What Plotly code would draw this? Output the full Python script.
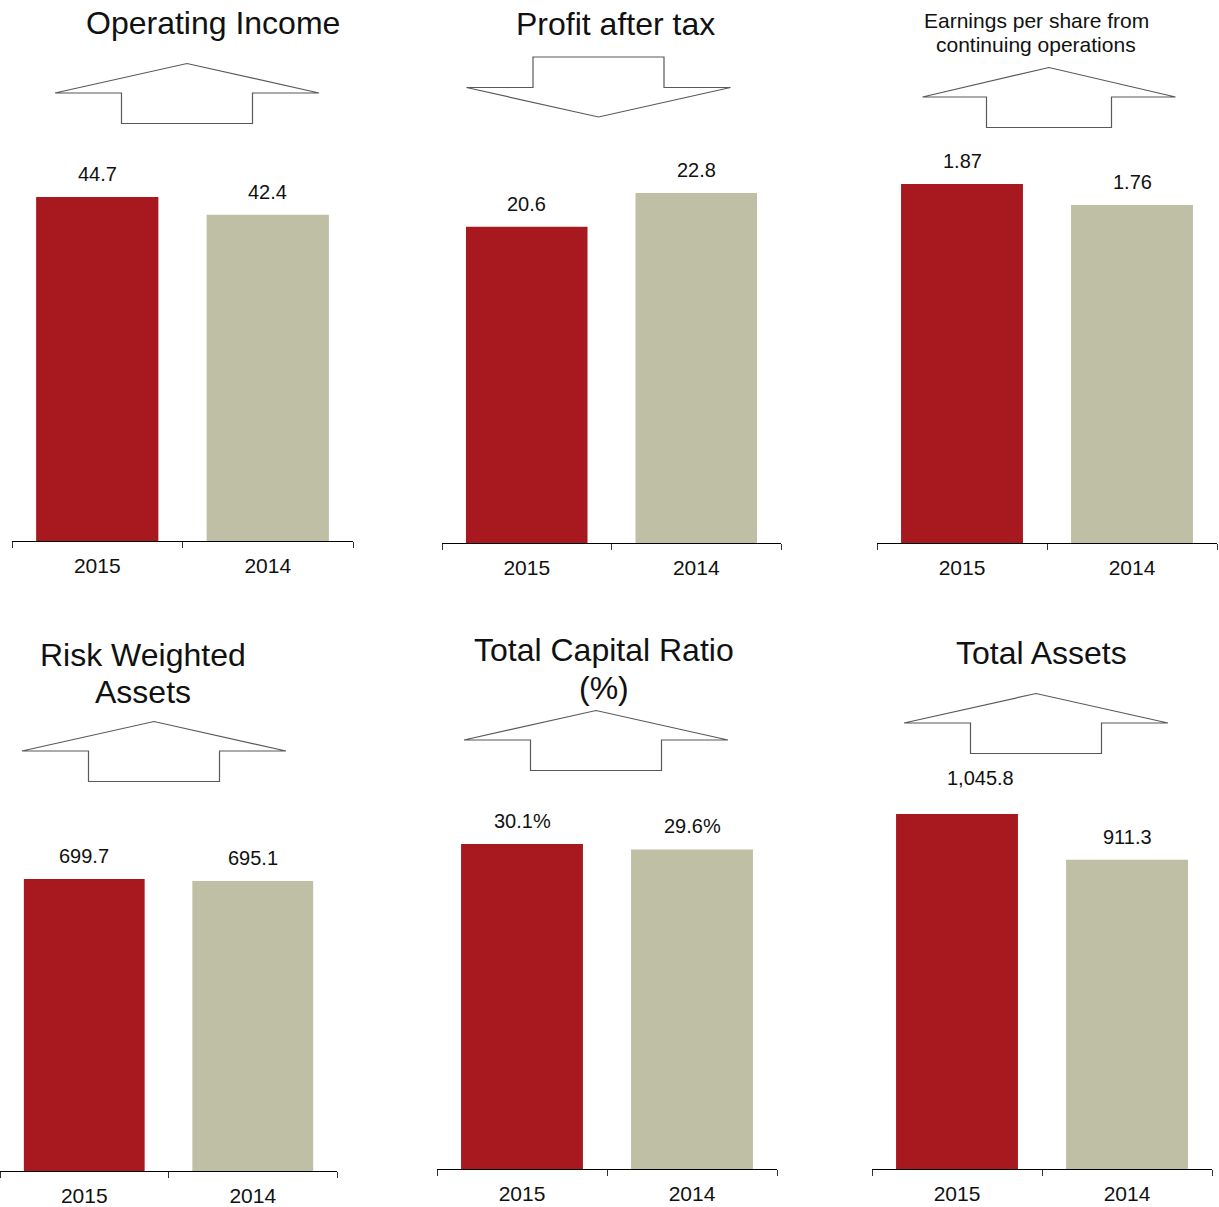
import plotly.graph_objects as go

# ---------------- data ----------------
years = ["2015", "2014"]
titles = [
    "Operating Income",
    "Profit after tax",
    "Earnings per share from<br>continuing operations",
    "Risk Weighted<br>Assets",
    "Total Capital Ratio<br>(%)",
    "Total Assets",
]
operating_income = [44.7, 42.4]
profit_after_tax = [20.6, 22.8]
eps_continuing = [1.87, 1.76]
risk_weighted_assets = [699.7, 695.1]
total_capital_ratio = [30.1, 29.6]
total_assets = [1045.8, 911.3]
series = [operating_income, profit_after_tax, eps_continuing,
          risk_weighted_assets, total_capital_ratio, total_assets]
label_formats = ["{:.1f}", "{:.1f}", "{:.2f}", "{:.1f}", "{:.1f}%", "{:,.1f}"]
trend = ["up", "down", "up", "up", "up", "up"]

# ---------------- style / layout (pixels) ----------------
W, H = 1219, 1207
RED = "#A8191F"
BEIGE = "#BFBFA5"
FONT = "Liberation Sans, Arial, sans-serif"

panels = [
    dict(x0=12, x1=353, yb=541, yt=150, ymax=50.81, tx=213, ty=[23], ts=32, acx=187, ay=93, hw=132, sw=65.5),
    dict(x0=442, x1=781, yb=543, yt=150, ymax=25.60, tx=615, ty=[24], ts=32, acx=598.5, ay=87.5, hw=132, sw=65.5),
    dict(x0=877, x1=1217, yb=543, yt=150, ymax=2.047, tx=1036, ty=[21, 45], ts=21, acx=1049, ay=97, hw=126.5, sw=62.5),
    dict(x0=0, x1=337, yb=1171, yt=780, ymax=936.9, tx=143, ty=[655, 692], ts=32, acx=154, ay=751, hw=132, sw=65.5),
    dict(x0=437, x1=777, yb=1169, yt=780, ymax=36.03, tx=604, ty=[650, 688], ts=32, acx=596, ay=740, hw=132, sw=65.5),
    dict(x0=872, x1=1212, yb=1169, yt=780, ymax=1146.0, tx=1041, ty=[653], ts=32, acx=1036, ay=723, hw=132, sw=65.5),
]
label_shift = {(5, 0): (23, 36)}


def px(x):
    return x / W


def py(y):
    return 1 - y / H


fig = go.Figure()
annotations = []
shapes = []

for i, (vals, p) in enumerate(zip(series, panels)):
    n = i + 1
    xa = "x" if n == 1 else f"x{n}"
    ya = "y" if n == 1 else f"y{n}"
    fig.add_trace(go.Bar(
        x=years, y=vals, marker=dict(color=[RED, BEIGE], line=dict(width=0)),
        xaxis=xa, yaxis=ya, showlegend=False, hoverinfo="x+y",
    ))
    axis_x = dict(
        domain=[px(p["x0"]), px(p["x1"])], anchor=ya, type="category",
        range=[-0.5, 1.5], showline=True, linecolor="black", linewidth=1,
        ticks="outside", tickson="boundaries", ticklen=6, tickcolor="#333",
        tickfont=dict(size=21, color="#111", family=FONT), showgrid=False,
        zeroline=False, fixedrange=True, ticklabelstandoff=6,
    )
    axis_y = dict(
        domain=[py(p["yb"]), py(p["yt"])], anchor=xa, range=[0, p["ymax"]],
        visible=False, showgrid=False, zeroline=False, fixedrange=True,
    )
    fig.update_layout(**{("xaxis" if n == 1 else f"xaxis{n}"): axis_x,
                         ("yaxis" if n == 1 else f"yaxis{n}"): axis_y})

    # value labels (category axis -> use category index)
    for j, v in enumerate(vals):
        xs, ys = label_shift.get((i, j), (0, 23))
        annotations.append(dict(
            x=j, y=v, xref=xa, yref=ya, text=label_formats[i].format(v),
            showarrow=False, yanchor="middle", xanchor="center",
            xshift=xs, yshift=ys,
            font=dict(size=20, color="#111", family=FONT),
        ))

    # title lines
    for line, ty in zip(titles[i].split("<br>"), p["ty"]):
        annotations.append(dict(
            x=px(p["tx"]), y=py(ty), xref="paper", yref="paper", text=line,
            showarrow=False, xanchor="center", yanchor="middle",
            font=dict(size=p["ts"], color="#111", family=FONT),
        ))

    # trend arrow outline
    cx, wy = p["acx"], p["ay"]
    hw, sw, hh, sh = p["hw"], p["sw"], 29.5, 30.5
    d = -1 if trend[i] == "up" else 1
    pts = [
        (cx - hw, wy), (cx, wy + d * hh), (cx + hw, wy), (cx + sw, wy),
        (cx + sw, wy - d * sh), (cx - sw, wy - d * sh), (cx - sw, wy),
    ]
    path = "M " + " L ".join(f"{px(a):.5f},{py(b):.5f}" for a, b in pts) + " Z"
    shapes.append(dict(type="path", path=path, xref="paper", yref="paper",
                       line=dict(color="#595959", width=1.2), fillcolor="white"))

fig.update_layout(
    width=W, height=H, margin=dict(l=0, r=0, t=0, b=0),
    paper_bgcolor="white", plot_bgcolor="white",
    bargap=0.283, annotations=annotations, shapes=shapes,
    font=dict(family=FONT),
)

fig.write_html(
    "out.html",
    config={"displayModeBar": False},
    post_script="document.body.style.margin='0';document.body.style.overflow='hidden';",
)
